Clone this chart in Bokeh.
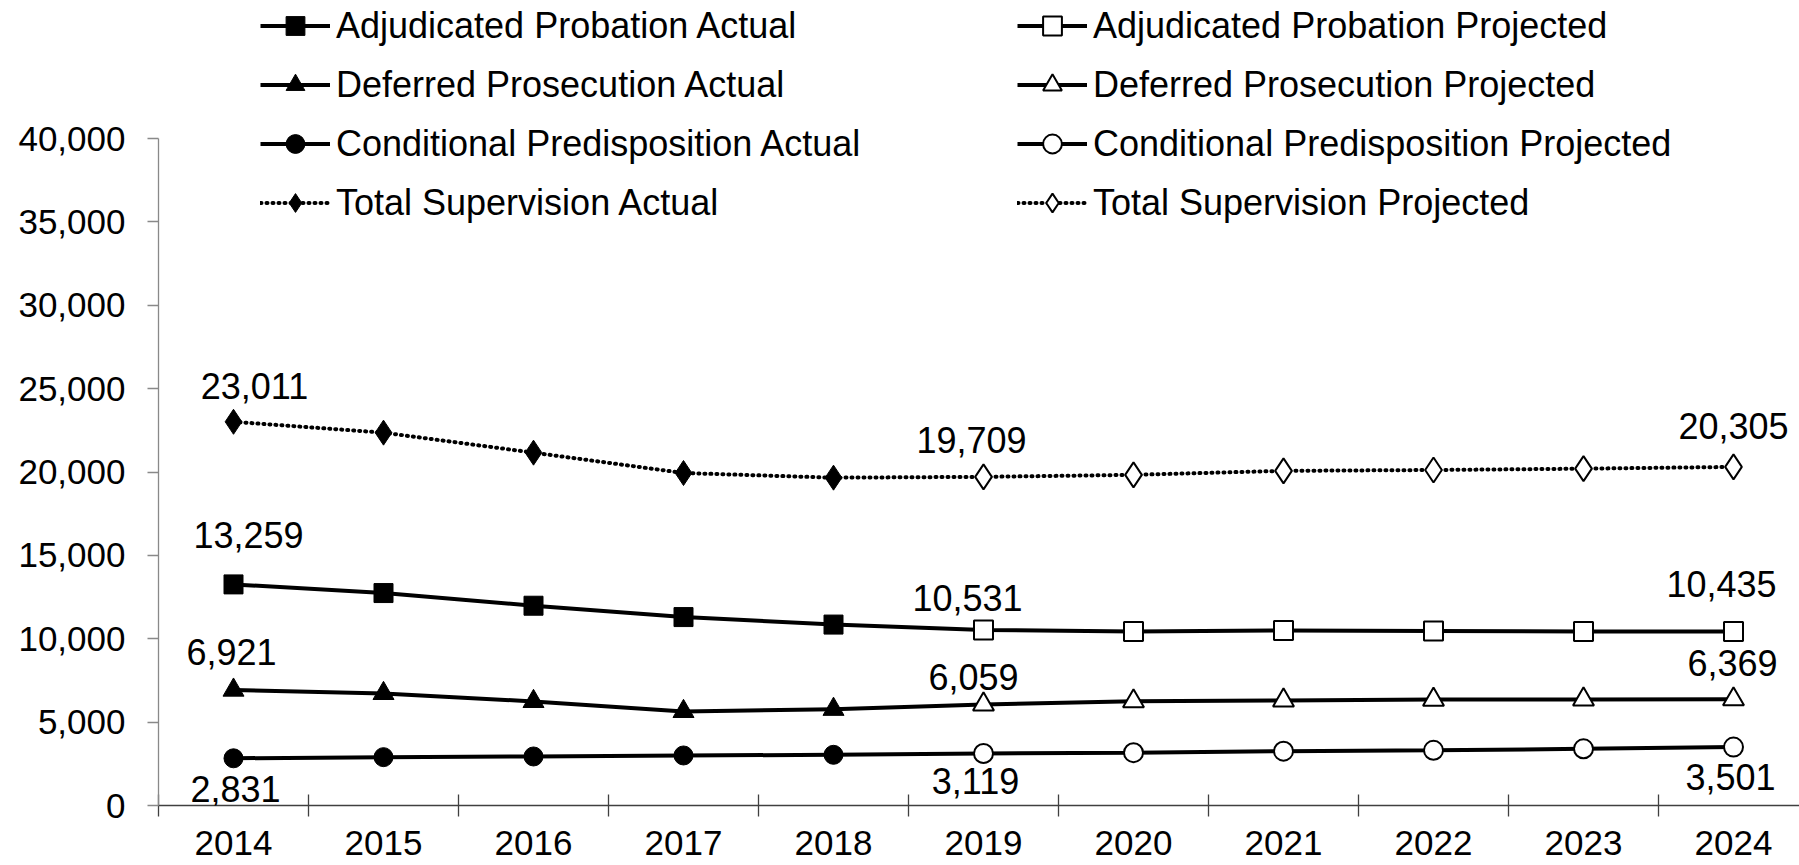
from bokeh.plotting import figure
from bokeh.models import (FixedTicker, NumeralTickFormatter, Legend, LegendItem,
                          ColumnDataSource, LabelSet, Range1d)
from bokeh.core.properties import value
from bokeh.embed import file_html
from bokeh.resources import INLINE

# ---------------- data ----------------
years_actual = [2014, 2015, 2016, 2017, 2018]
years_projected = [2019, 2020, 2021, 2022, 2023, 2024]

adj_actual = [13259, 12740, 11980, 11300, 10850]
adj_projected = [10531, 10430, 10500, 10470, 10440, 10435]
def_actual = [6921, 6720, 6240, 5640, 5770]
def_projected = [6059, 6250, 6300, 6350, 6360, 6369]
cond_actual = [2831, 2900, 2940, 3000, 3040]
cond_projected = [3119, 3170, 3260, 3310, 3400, 3501]
total_actual = [23011, 22360, 21160, 19940, 19660]
total_projected = [19709, 19830, 20070, 20120, 20200, 20305]

label_years = [2014, 2014, 2014, 2014, 2019, 2019, 2019, 2019, 2024, 2024, 2024, 2024]
label_values = [23011, 13259, 6921, 2831, 19709, 10531, 6059, 3119, 20305, 10435, 6369, 3501]
label_texts = ["23,011", "13,259", "6,921", "2,831", "19,709", "10,531", "6,059", "3,119",
               "20,305", "10,435", "6,369", "3,501"]

y_ticks = [0, 5000, 10000, 15000, 20000, 25000, 30000, 35000, 40000]

# label placement (screen px) relative to point
label_dx = [21, 15, -2, 2, -12, -16, -10, -8, 0, -12, -1, -3]
label_dy = [36, 49, 38, -31, 37, 32, 27, -28, 41, 47, 36, -30]

FONT = "Liberation Sans"
FS_AX = "35px"
FS_LEG = "36px"
FS_DATA = "36px"

all_years = years_actual + years_projected

# layout (px): frame left 158, x-axis at 805, 40,000 at 138
W, H = 1799, 865
LEFT, BOTTOM = 158, 60
CAT = 150.0
y_top = y_ticks[-1] * (H - BOTTOM) / (H - BOTTOM - 138.0)

p = figure(width=W, height=H,
           x_range=Range1d(all_years[0] - 0.5, all_years[0] - 0.5 + (W - LEFT) / CAT),
           y_range=Range1d(0, y_top),
           output_backend="svg", toolbar_location=None,
           min_border_left=LEFT, min_border_right=0,
           min_border_top=0, min_border_bottom=BOTTOM)
p.grid.visible = False
p.outline_line_color = None
p.background_fill_color = "white"
p.border_fill_color = "white"

# x axis
p.xaxis.ticker = FixedTicker(ticks=all_years,
                             minor_ticks=[y - 0.5 for y in all_years] + [all_years[-1] + 0.5])
p.xaxis.major_tick_in = 0
p.xaxis.major_tick_out = 0
p.xaxis.minor_tick_in = 11
p.xaxis.minor_tick_out = 11
p.xaxis.minor_tick_line_color = "#404040"
p.xaxis.minor_tick_line_width = 1.3
p.xaxis.axis_line_color = "#404040"
p.xaxis.axis_line_width = 1.3
p.xaxis.major_label_text_font = FONT
p.xaxis.major_label_text_font_size = FS_AX
p.xaxis.major_label_text_color = "black"
p.xaxis.major_label_standoff = 14

# y axis
p.yaxis.ticker = FixedTicker(ticks=y_ticks)
p.yaxis.bounds = (y_ticks[0], y_ticks[-1])
p.yaxis.formatter = NumeralTickFormatter(format="0,0")
p.yaxis.major_tick_in = 0
p.yaxis.major_tick_out = 11
p.yaxis.minor_tick_out = 0
p.yaxis.minor_tick_in = 0
p.yaxis.axis_line_color = "#898989"
p.yaxis.major_tick_line_color = "#898989"
p.yaxis.axis_line_width = 1.3
p.yaxis.major_tick_line_width = 1.3
p.yaxis.major_label_text_font = FONT
p.yaxis.major_label_text_font_size = FS_AX
p.yaxis.major_label_text_color = "black"
p.yaxis.major_label_standoff = 22

series = [
    ("Adjudicated Probation", adj_actual, adj_projected, "square", 19, "solid"),
    ("Deferred Prosecution", def_actual, def_projected, "triangle", 21, "solid"),
    ("Conditional Predisposition", cond_actual, cond_projected, "circle", 19, "solid"),
    ("Total Supervision", total_actual, total_projected, "diamond", 25, "dotted"),
]

left_items = []
right_items = []
for name, act, proj, marker, size, style in series:
    if style == "solid":
        kw = dict(line_width=4, line_dash="solid")
    else:
        kw = dict(line_width=4, line_dash="1 5", line_cap="round")
    la = p.line(years_actual, act, line_color="black", **kw)
    lp = p.line([years_actual[-1]] + years_projected, [act[-1]] + proj,
                line_color="black", **kw)
    sa = p.scatter(years_actual, act, marker=marker, size=size,
                   fill_color="black", line_color="black", line_width=1)
    sp = p.scatter(years_projected, proj, marker=marker, size=size,
                   fill_color="white", line_color="black", line_width=2)
    left_items.append(LegendItem(label=name + " Actual", renderers=[la, sa]))
    right_items.append(LegendItem(label=name + " Projected", renderers=[lp, sp]))

# data labels
src = ColumnDataSource(dict(x=label_years, y=label_values, t=label_texts,
                            dx=label_dx, dy=label_dy))
p.add_layout(LabelSet(x="x", y="y", text="t", source=src,
                      x_offset="dx", y_offset="dy",
                      text_align="center", text_baseline="middle",
                      text_font=value(FONT), text_font_size=value(FS_DATA),
                      text_color="black"))

for items, xloc in ((left_items, 102), (right_items, 859)):
    leg = Legend(items=items, location=(xloc, 579), orientation="vertical",
                 glyph_width=70, glyph_height=47, spacing=12, padding=0, margin=0,
                 label_standoff=6, border_line_color=None, background_fill_alpha=0,
                 label_text_font=FONT, label_text_font_size=FS_LEG,
                 label_text_color="black")
    p.add_layout(leg)

open("out.html", "w").write(file_html(p, INLINE))
